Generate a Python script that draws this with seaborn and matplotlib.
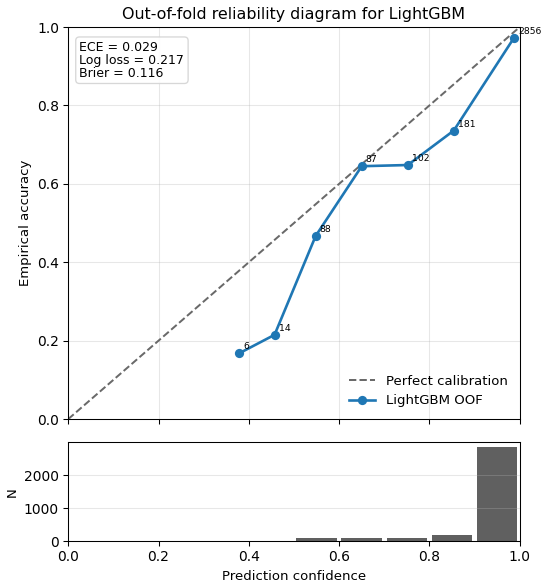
import numpy as np
import matplotlib
matplotlib.use("Agg")
import matplotlib.pyplot as plt
import seaborn as sns

# valores
confianca_media = [0.379, 0.457, 0.548, 0.650, 0.752, 0.854, 0.987]
acuracia = [0.168, 0.215, 0.467, 0.645, 0.648, 0.736, 0.972]
contagens = [6, 14, 88, 87, 102, 181, 2856]
bordas_bins = [0.3, 0.4, 0.5, 0.6, 0.7, 0.8, 0.9, 1.0]
centros_bins = [0.35, 0.45, 0.55, 0.65, 0.75, 0.85, 0.95]
texto_metricas = "ECE = 0.029\nLog loss = 0.217\nBrier = 0.116"

plt.rcParams["font.family"] = ["DejaVu Sans"]

DPI = 95
fig, (ax_top, ax_hist) = plt.subplots(
    2, 1, figsize=(550 / DPI, 587 / DPI), dpi=DPI, sharex=True,
    gridspec_kw={"height_ratios": [3.96, 1], "hspace": 0.094},
)
fig.subplots_adjust(left=0.124, right=0.945, top=0.954, bottom=0.078)

ax_top.plot([0, 1], [0, 1], linestyle="--", color="dimgray", linewidth=1.5, label="Perfect calibration")
sns.lineplot(x=confianca_media, y=acuracia, marker="o", color="#1f77b4", linewidth=2,
             markersize=7, markeredgewidth=0, ax=ax_top, label="LightGBM OOF")
for xc, yc, n in zip(confianca_media, acuracia, contagens):
    ax_top.annotate(str(n), (xc, yc), textcoords="offset points", xytext=(3, 3), fontsize=7)

ax_top.set_xlim(0, 1)
ax_top.set_ylim(0, 1)
ax_top.set_ylabel("Empirical accuracy")
ax_top.set_title("Out-of-fold reliability diagram for LightGBM", fontsize=12)
ax_top.grid(True, alpha=0.3)
ax_top.legend(loc="lower right", frameon=False, fontsize=10)
ax_top.text(0.025, 0.965, texto_metricas, transform=ax_top.transAxes, va="top", ha="left",
            fontsize=9.5, linespacing=1.0,
            bbox=dict(boxstyle="round", facecolor="white", edgecolor="lightgray", alpha=0.9))
ax_top.tick_params(labelbottom=False, labelsize=10.5)

sns.histplot(x=centros_bins, weights=contagens, bins=bordas_bins, shrink=0.9,
             color="#444444", alpha=0.85, edgecolor="none", ax=ax_hist)
ax_hist.set_xlim(0, 1)
ax_hist.set_ylabel("N")
ax_hist.set_xlabel("Prediction confidence")
ax_hist.set_yticks([0, 1000, 2000])
ax_hist.tick_params(labelsize=10.5)
ax_hist.grid(True, axis="y", alpha=0.3)

fig.savefig("out.png", dpi=DPI)
